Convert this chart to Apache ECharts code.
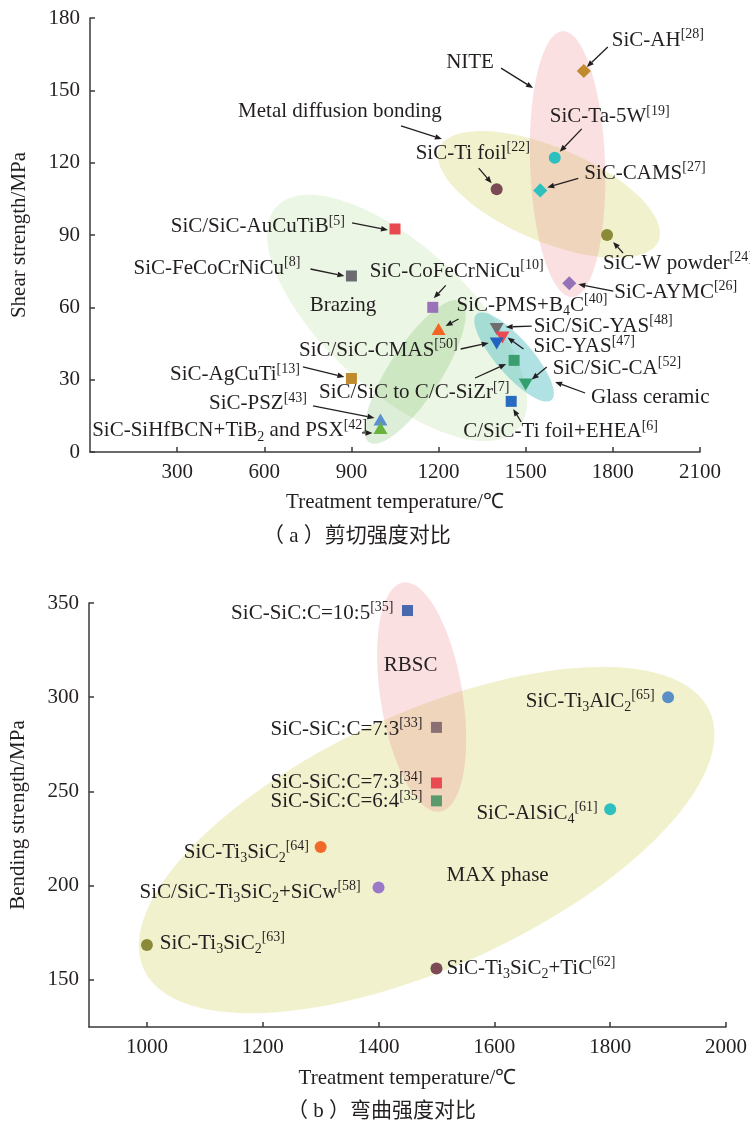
<!DOCTYPE html>
<html><head><meta charset="utf-8">
<script src="https://cdn.jsdelivr.net/npm/echarts@6/dist/echarts.min.js"></script>
<style>html,body{margin:0;padding:0;background:#fff}#c{width:750px;height:1123px}</style>
</head><body><div id="c"></div>
<script>
// ================= DATA: (a) shear strength =================
const shearNames = ['SiC-AH','SiC-Ta-5W','SiC-CAMS','SiC-Ti foil','SiC-W powder','SiC-AYMC',
  'SiC/SiC-AuCuTiB','SiC-FeCoCrNiCu','SiC-CoFeCrNiCu','SiC-PMS+B4C','SiC/SiC-YAS','SiC-YAS',
  'SiC/SiC-CMAS','SiC/SiC to C/C-SiZr','SiC/SiC-CA','C/SiC-Ti foil+EHEA','SiC-AgCuTi','SiC-PSZ',
  'SiC-SiHfBCN+TiB2 and PSX'];
const shearLabels = ['SiC-AH{sup|[28]}','SiC-Ta-5W{sup|[19]}','SiC-CAMS{sup|[27]}','SiC-Ti foil{sup|[22]}',
  'SiC-W powder{sup|[24]}','SiC-AYMC{sup|[26]}','SiC/SiC-AuCuTiB{sup|[5]}','SiC-FeCoCrNiCu{sup|[8]}',
  'SiC-CoFeCrNiCu{sup|[10]}','SiC-PMS+B{sub|4}C{sup|[40]}','SiC/SiC-YAS{sup|[48]}','SiC-YAS{sup|[47]}',
  'SiC/SiC-CMAS{sup|[50]}','SiC/SiC to C/C-SiZr{sup|[7]}','SiC/SiC-CA{sup|[52]}','C/SiC-Ti foil+EHEA{sup|[6]}',
  'SiC-AgCuTi{sup|[13]}','SiC-PSZ{sup|[43]}','SiC-SiHfBCN+TiB{sub|2} and PSX{sup|[42]}'];
const shearTemp     = [1700,1600,1550,1400,1780,1650,1050,900,1180,1200,1400,1420,1400,1460,1500,1450,900,1000,1000];
const shearStrength = [158, 122, 108.5,109, 90,  70,  92.5,73, 60,  51,  51,  47.5,45,  38,  28,  21,  30.5,13.5,10];
const shearSymbol   = ['dm','ci','dm','ci','ci','dm','sq','sq','sq','tu','td','td','td','sq','td','sq','sq','tu','tu'];
const shearColor    = ['#c08a2e','#2ebfbf','#2ebfbf','#7a4a55','#8a8a38','#9372b8','#e84850','#6b6b70','#9a72ba',
  '#f26522','#6e6e6e','#ea4a52','#2262c0','#3a9e6e','#33a06e','#2a6bc2','#c08a2e','#5b8fd0','#6ab23e'];
const shearRegionNames  = ['Brazing','', 'Glass ceramic','Metal diffusion bonding','NITE'];
const shearRegionCenter = [[1057,55.6],[1119,33.2],[1460,39.4],[1580,106.8],[1644,119.4]];

// ================= DATA: (b) bending strength =================
const bendNames = ['SiC-SiC:C=10:5','SiC-SiC:C=7:3','SiC-SiC:C=7:3','SiC-SiC:C=6:4','SiC-Ti3AlC2','SiC-AlSiC4',
  'SiC-Ti3SiC2','SiC/SiC-Ti3SiC2+SiCw','SiC-Ti3SiC2','SiC-Ti3SiC2+TiC'];
const bendLabels = ['SiC-SiC:C=10:5{sup|[35]}','SiC-SiC:C=7:3{sup|[33]}','SiC-SiC:C=7:3{sup|[34]}','SiC-SiC:C=6:4{sup|[35]}',
  'SiC-Ti{sub|3}AlC{sub|2}{sup|[65]}','SiC-AlSiC{sub|4}{sup|[61]}','SiC-Ti{sub|3}SiC{sub|2}{sup|[64]}',
  'SiC/SiC-Ti{sub|3}SiC{sub|2}+SiCw{sup|[58]}','SiC-Ti{sub|3}SiC{sub|2}{sup|[63]}','SiC-Ti{sub|3}SiC{sub|2}+TiC{sup|[62]}'];
const bendTemp     = [1450,1500,1500, 1500,1900,1800, 1300, 1400,1000, 1500];
const bendStrength = [346, 284, 254.5,245, 300, 240.5,220.5,199, 168.5,156];
const bendSymbol   = ['sq','sq','sq','sq','ci','ci','ci','ci','ci','ci'];
const bendColor    = ['#4a68ae','#8a7072','#ea4a52','#5a9a6c','#5a8ec6','#2ebfbf','#f26a2a','#9a7ac8','#8a8a38','#7a4a55'];
const bendRegionNames  = ['MAX phase','RBSC'];
const bendRegionCenter = [[1483,224.2],[1474.4,300.1]];

// ticks
const bendXTicks = [1000,1200,1400,1600,1800,2000];
const bendYTicks = [150,200,250,300,350];

// ================= LAYOUT / STYLE =================
const INK = '#231f20';
const FONT = "'Liberation Serif','Times New Roman',serif";
// label layout: [dx, dy, align, arrowStartDx, arrowStartDy, arrowEndDx, arrowEndDy] (px relative to point)
const shearLabelLayout = [
  [28,-31,'left', 24,-24, 3,-4],
  [-5,-41,'left', 27,-29, 5,-6],
  [44,-17,'left', 38,-12, 7,-3],
  [-81,-36,'left', -18,-21, -5,-6],
  [-4,28,'left', 16,18, 6,7],
  [45,9,'left', 44,8, 9,1],
  [-50,-2,'right', -43,-6, -7,1],
  [-51,-8,'right', -41,-7, -7,0],
  [-63,-36,'left', 13,-22, 1,-9],
  [18,-24,'left', 20,-10, 7,-3],
  [37,-3,'left', 35,-3, 9,-2],
  [31,9.5,'left', 21,11.5, 5,0],
  [-39,6.5,'right', -36,5.5, -8,-0.5],
  [-195,32.6,'left', -39,17.6, -8,3.6],
  [27,-16.5,'left', 21,-17.5, 6,-5],
  [-48,30.6,'left', 10,20.6, 2,7.6],
  [-51.5,-3.5,'right', -48.5,-11.5, -7,-1.5],
  [-73.5,-15.5,'right', -67.5,-13.5, -6,-1.5],
  [-13.5,3,'right', -18.5,5, -8,5]
];
const bendLabelLayout = [
  [-14,2.5,'right'],[-14,2,'right'],[-14,0,'right'],[-14,1,'right'],
  [-13.5,4,'right'],[-12.4,3.7,'right'],[-11.6,5,'right'],[-17.8,4.5,'right'],
  [12.8,-2,'left'],[10,0,'left']
];
// region shapes: [semiMajor px, semiMinor px, angle deg, fill]
const shearRegionShape = [
  [164,72,42.7,'rgba(170,215,130,0.22)'],
  [84,26,-57,'rgba(120,190,100,0.26)'],
  [57,18,49,'rgba(80,190,195,0.45)'],
  [119,47,23,'rgba(215,215,120,0.36)'],
  [133,37.5,88,'rgba(240,130,140,0.25)']
];
const shearRegionLabel = [
  [-54,-12,'center'],
  null,
  [77,40,'left', 71,36, 41,25],
  [-209,-83.5,'center', -148,-68.5, -107,-55.5],
  [-97.5,-102,'center', -66.5,-96, -34.5,-76]
];
const bendRegionShape = [
  [311,127,-24.5,'rgba(215,215,120,0.36)'],
  [116,41,80.8,'rgba(240,130,140,0.25)']
];
const bendRegionLabel = [[20,35,'left'],[-11,-32,'center']];

const symMap = {
  sq: {symbol:'rect', size:11, rot:0},
  dm: {symbol:'rect', size:10, rot:45},
  ci: {symbol:'circle', size:12, rot:0},
  tu: {symbol:'triangle', size:[14,12], rot:0},
  td: {symbol:'triangle', size:[14,12], rot:180}
};
const rich = {
  sup: {fontSize:14, fontFamily:FONT, verticalAlign:'top', lineHeight:14, fill:INK, color:INK},
  sub: {fontSize:14, fontFamily:FONT, verticalAlign:'bottom', lineHeight:14, fill:INK, color:INK}
};

function arrowEls(x1,y1,x2,y2){
  const a = Math.atan2(y2-y1,x2-x1), L=7, W=2.8;
  const bx = x2-L*Math.cos(a), by = y2-L*Math.sin(a);
  return [
    {type:'line', shape:{x1:x1,y1:y1,x2:bx,y2:by}, style:{stroke:INK,lineWidth:1.3}},
    {type:'polygon', shape:{points:[[x2,y2],[bx-W*Math.sin(a),by+W*Math.cos(a)],[bx+W*Math.sin(a),by-W*Math.cos(a)]]}, style:{fill:INK}}
  ];
}
function textEl(x,y,txt,align){
  return {type:'text', x:x, y:y, style:{text:txt, fill:INK, fontSize:21, fontFamily:FONT,
    align:align, verticalAlign:'middle', textAlign:align, textVerticalAlign:'middle', lineHeight:26, rich:rich}};
}
function scatterData(xs, ys, syms, cols){
  return xs.map((x,i)=>{
    const s = symMap[syms[i]];
    return {value:[x, ys[i]], symbol:s.symbol, symbolSize:s.size, symbolRotate:s.rot, itemStyle:{color:cols[i], opacity:1}};
  });
}
function regionSeries(centers, shapes, xi){
  return {
    type:'custom', xAxisIndex:xi, yAxisIndex:xi, z:1, clip:false, silent:true,
    data: centers,
    renderItem: function(params, api){
      const i = params.dataIndex;
      const c = api.coord([api.value(0), api.value(1)]);
      const [a,b,deg,fill] = shapes[i];
      const t0 = deg*Math.PI/180, pts = [];
      for (let k=0;k<120;k++){
        const t = k/120*2*Math.PI, ex=a*Math.cos(t), ey=b*Math.sin(t);
        pts.push([c[0]+ex*Math.cos(t0)-ey*Math.sin(t0), c[1]+ex*Math.sin(t0)+ey*Math.cos(t0)]);
      }
      return {type:'polygon', shape:{points:pts}, style:{fill:fill}};
    }
  };
}
function labelSeries(anchors, texts, layout, xi, z){
  return {
    type:'custom', xAxisIndex:xi, yAxisIndex:xi, z:z, clip:false, silent:true,
    data: anchors,
    renderItem: function(params, api){
      const i = params.dataIndex, L = layout[i];
      if (!L) return {type:'group', children:[]};
      const c = api.coord([api.value(0), api.value(1)]);
      const ch = [textEl(c[0]+L[0], c[1]+L[1], texts[i], L[2])];
      if (L.length > 3) ch.push(...arrowEls(c[0]+L[3], c[1]+L[4], c[0]+L[5], c[1]+L[6]));
      return {type:'group', children:ch};
    }
  };
}

const plain = v => String(v);
const axisLine = {show:true, lineStyle:{color:'#3a3a3a', width:1.5}};
const axisTick = {show:true, inside:true, length:5, lineStyle:{color:'#3a3a3a', width:1.5}};
const axisLabel = {color:INK, fontSize:21, fontFamily:FONT, formatter:plain};
const nameStyle = {color:INK, fontSize:21, fontFamily:FONT};
const capFont = "'Liberation Serif','Noto Sans CJK SC'";

const chart = echarts.init(document.getElementById('c'), null, {renderer:'canvas'});
chart.setOption({
  animation:false,
  backgroundColor:'#fff',
  grid:[
    {left:90, top:18, width:610, height:434},
    {left:89, top:603, width:639.7, height:424}
  ],
  xAxis:[
    {type:'value', gridIndex:0, min:0, max:2100, interval:300, axisLine, axisTick,
     axisLabel:Object.assign({margin:10, showMinLabel:false}, axisLabel), splitLine:{show:false},
     name:'Treatment temperature/℃', nameLocation:'middle', nameGap:40, nameTextStyle:nameStyle},
    {type:'value', gridIndex:1, min:900, max:2000, axisLine,
     axisTick:Object.assign({customValues:bendXTicks}, axisTick),
     axisLabel:Object.assign({margin:10, customValues:bendXTicks}, axisLabel), splitLine:{show:false},
     name:'Treatment temperature/℃', nameLocation:'middle', nameGap:41, nameTextStyle:nameStyle}
  ],
  yAxis:[
    {type:'value', gridIndex:0, min:0, max:180, interval:30, axisLine, axisTick,
     axisLabel:Object.assign({margin:10}, axisLabel), splitLine:{show:false},
     name:'Shear strength/MPa', nameLocation:'middle', nameGap:60, nameTextStyle:nameStyle},
    {type:'value', gridIndex:1, min:125, max:350, axisLine,
     axisTick:Object.assign({customValues:bendYTicks}, axisTick),
     axisLabel:Object.assign({margin:10, customValues:bendYTicks}, axisLabel), splitLine:{show:false},
     name:'Bending strength/MPa', nameLocation:'middle', nameGap:60, nameTextStyle:nameStyle}
  ],
  graphic:[
    {type:'text', left:263, top:526, style:{text:'（ a ）剪切强度对比', fill:INK, fontSize:21, fontFamily:capFont}},
    {type:'text', left:287, top:1101, style:{text:'（ b ）弯曲强度对比', fill:INK, fontSize:21, fontFamily:capFont}}
  ],
  series:[
    regionSeries(shearRegionCenter, shearRegionShape, 0),
    regionSeries(bendRegionCenter, bendRegionShape, 1),
    {type:'scatter', xAxisIndex:0, yAxisIndex:0, z:3, data:scatterData(shearTemp, shearStrength, shearSymbol, shearColor)},
    {type:'scatter', xAxisIndex:1, yAxisIndex:1, z:3, data:scatterData(bendTemp, bendStrength, bendSymbol, bendColor)},
    labelSeries(shearTemp.map((x,i)=>[x, shearStrength[i]]), shearLabels, shearLabelLayout, 0, 4),
    labelSeries(bendTemp.map((x,i)=>[x, bendStrength[i]]), bendLabels, bendLabelLayout, 1, 4),
    labelSeries(shearRegionCenter, shearRegionNames, shearRegionLabel, 0, 4),
    labelSeries(bendRegionCenter, bendRegionNames, bendRegionLabel, 1, 4)
  ]
});
</script></body></html>
